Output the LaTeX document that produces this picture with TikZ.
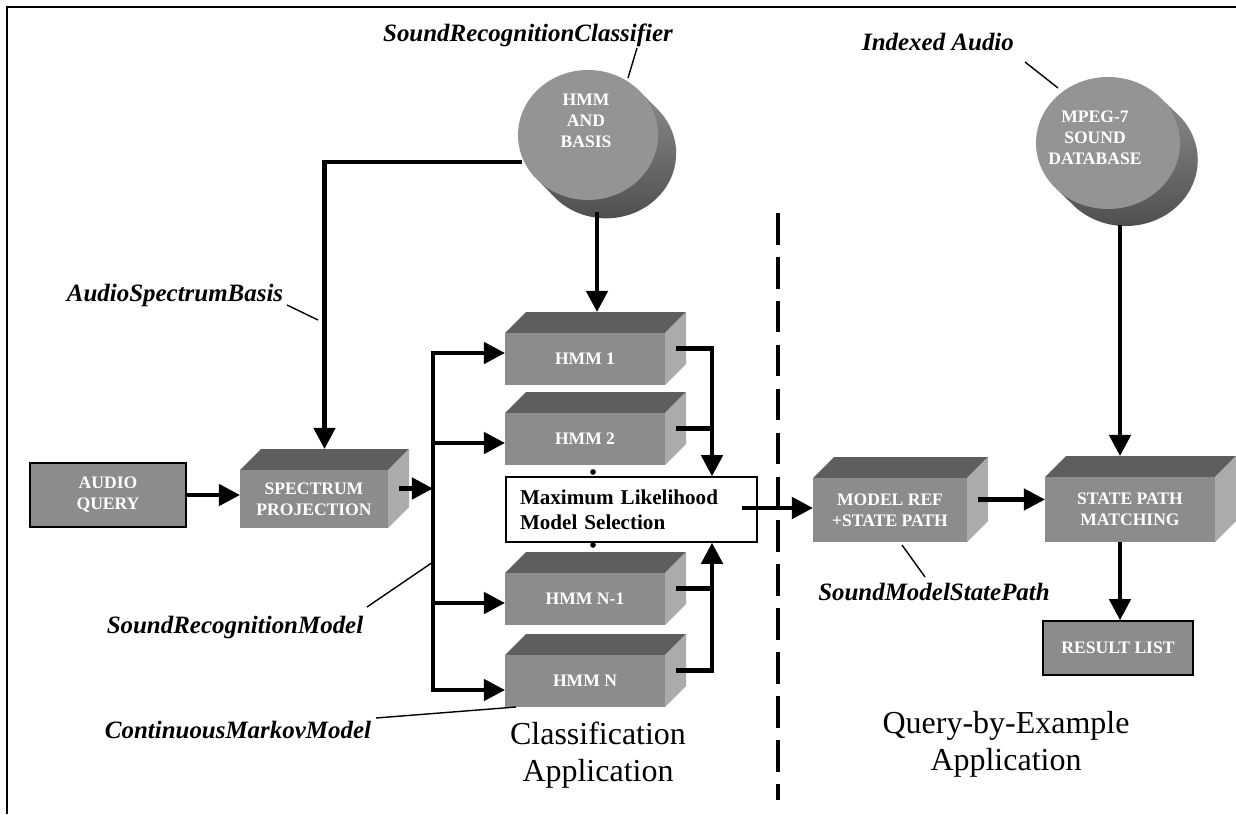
\documentclass[tikz,border=0pt]{standalone}
\usepackage{fontspec}
\setmainfont{Liberation Serif}
\usetikzlibrary{arrows.meta,shapes.geometric,calc}
\newcommand{\mycube}[6]{%
  \fill[topface] (#2,#3) -- ++(21,-21) -- ++(#4,0) -- ++(-21,21) -- cycle;
  \fill[sideface] (#2+#4,#3) -- ++(21,-21) -- ++(0,#5) -- ++(-21,21) -- cycle;
  \node[frontface, minimum width=#4*0.02cm, minimum height=#5*0.02cm] (#1) at (#2+#4/2,#3+#5/2) {#6};
  \coordinate (#1-top) at (#2+#4/2+10.5,#3-21);
  \coordinate (#1-side) at (#2+#4+10.5,#3+#5/2-10.5);
}
\newcommand{\mycyl}[7]{%
  \node[ellipse, inner sep=0, outer sep=0, minimum width=2*#4*0.02cm, minimum height=2*#5*0.02cm] (#1-back) at (#2+#6,#3+#7) {};
  \node[ellipse, inner sep=0, outer sep=0, minimum width=2*#4*0.02cm, minimum height=2*#5*0.02cm] (#1) at (#2,#3) {};
  \shade[cylside] (#1.45) -- (#1-back.45) arc[start angle=45, end angle=-135, x radius=#4*0.02cm, y radius=#5*0.02cm] -- (#1.225) -- cycle;
  \fill[cylface] (#1.center) ellipse [x radius=#4*0.02cm, y radius=#5*0.02cm];
}
\begin{document}
\begin{tikzpicture}[x=0.02cm,y=-0.02cm,
  frontface/.style={fill=black!45, inner sep=0, outer sep=0, text=white,
     font=\bfseries\fontsize{10}{12}\selectfont, align=center},
  topface/.style={fill=black!63},
  sideface/.style={fill=black!33},
  cylface/.style={fill=black!42},
  cylside/.style={top color=black!45, bottom color=black!70},
  cyltext/.style={text=white, font=\bfseries\fontsize{10}{12}\selectfont, align=center},
  flatbox/.style={draw=black, line width=0.9pt, fill=black!45, inner sep=0, text=white,
     font=\bfseries\fontsize{10}{12}\selectfont, align=center},
  arr/.style={line width=2.5pt, -{Triangle[length=12pt,width=12pt]}},
  conn/.style={line width=2.5pt},
  bus/.style={line width=2.5pt, line cap=rect},
  leader/.style={line width=0.8pt},
  tag/.style={font=\bfseries\itshape\fontsize{14.2}{17}\selectfont},
  apptext/.style={font=\fontsize{18.2}{21}\selectfont, align=center},
  frame/.style={line width=1.4pt}
]
\useasboundingbox (0,0) rectangle (1236,814);
\fill[white] (0,0) rectangle (1236,814);
\draw[frame] (7,814) -- (7,7) -- (1236,7);

% cylinders
\mycyl{bas}{588}{135}{70}{65}{20}{20}
\node[cyltext] (bastext) at (586,121) {HMM\\AND\\BASIS};
\mycyl{mpeg}{1108}{143}{72}{66}{20}{19}
\node[cyltext] (mpegtext) at (1095,138) {MPEG-7\\SOUND\\DATABASE};

% flat boxes
\node[flatbox, minimum width=156*0.02cm, minimum height=64*0.02cm] (aq) at (108,495) {AUDIO\\QUERY};
\node[flatbox, minimum width=150*0.02cm, minimum height=54*0.02cm] (result) at (1118,648) {RESULT LIST};

% cubes
\mycube{spec}{240}{470}{148}{58}{SPECTRUM\\PROJECTION}
\mycube{hmm1}{505}{333}{160}{52}{HMM 1}
\mycube{hmm2}{505}{413}{160}{52}{HMM 2}
\mycube{hmmn1}{505}{573}{160}{52}{HMM N-1}
\mycube{hmmn}{505}{655}{160}{52}{HMM N}
\mycube{modelref}{813}{478}{154}{64}{MODEL REF\\+STATE PATH}
\mycube{statepath}{1045}{477}{170}{65}{STATE PATH\\MATCHING}

% ML box
\node[draw=black, line width=0.8pt, fill=white, minimum width=251*0.02cm, minimum height=65*0.02cm,
      text width=223*0.02cm, inner xsep=14*0.02cm, align=left,
      font=\bfseries\fontsize{12}{14.2}\selectfont] (ml) at (631.5,509.5)
      {Maximum Likelihood\\Model Selection};
\fill (593,472) circle (1.6pt);
\fill (593,545) circle (1.6pt);

% junction coordinates
\coordinate (basl) at (522,162);
\coordinate (basb) at (597,212);
\coordinate (mpegb) at (1120,225);
\coordinate (b0) at (433,493);
\coordinate (b1) at (433,353);
\coordinate (b2) at (433,443);
\coordinate (b3) at (433,603);
\coordinate (b4) at (433,690);
\coordinate (rj) at (712,0);
\coordinate (mlout) at (742,508);

% connectors
\draw[arr] (basl) -| (spec-top);
\draw[arr] (basb) -- (basb |- hmm1-top);
\draw[arr] (aq.east) -- (aq.east -| spec.west);
\draw[arr] (spec-side) -- (spec-side -| b0);
\draw[bus] (b1) -- (b4);
\draw[arr] (b1) -- (b1 -| hmm1.west);
\draw[arr] (b2) -- (b2 -| hmm2.west);
\draw[arr] (b3) -- (b3 -| hmmn1.west);
\draw[arr] (b4) -- (b4 -| hmmn.west);
\draw[arr] (hmm1-side) -| (rj |- ml.north);
\draw[conn] (hmm2-side) -- (hmm2-side -| rj);
\draw[arr] (hmmn-side) -| (rj |- ml.south);
\draw[conn] (hmmn1-side) -- (hmmn1-side -| rj);
\draw[arr] (mlout) -- (mlout -| modelref.west);
\draw[arr] (modelref-side) -- (modelref-side -| statepath.west);
\draw[arr] (mpegb) -- (mpegb |- statepath-top);
\draw[arr] (statepath.south -| mpegb) -- (result.north -| mpegb);

% divider
\draw[line width=2.2pt, dash pattern=on 18pt off 7pt] (778,213) -- (778,800);

% tags
\node[tag] (tclass) at (528,35) {SoundRecognitionClassifier};
\draw[leader] (637,48) -- (628,78);
\node[tag] (tidx) at (938,42) {Indexed Audio};
\draw[leader] (1025,62) -- (1058,88);
\node[tag] (tasb) at (175,295) {AudioSpectrumBasis};
\draw[leader] (287,305) -- (318,320);
\node[tag] (tsrm) at (235,627) {SoundRecognitionModel};
\draw[leader] (367,607) -- (433,562);
\node[tag] (tcmm) at (238,730) {ContinuousMarkovModel};
\draw[leader] (376,718) -- (516,707);
\node[tag] (tsmsp) at (934,592) {SoundModelStatePath};
\draw[leader] (902,545) -- (925,577);

% application captions
\node[apptext] (capclass) at (598,755) {Classification\\Application};
\node[apptext] (capqbe) at (1006,744) {Query-by-Example\\Application};
\end{tikzpicture}
\end{document}
